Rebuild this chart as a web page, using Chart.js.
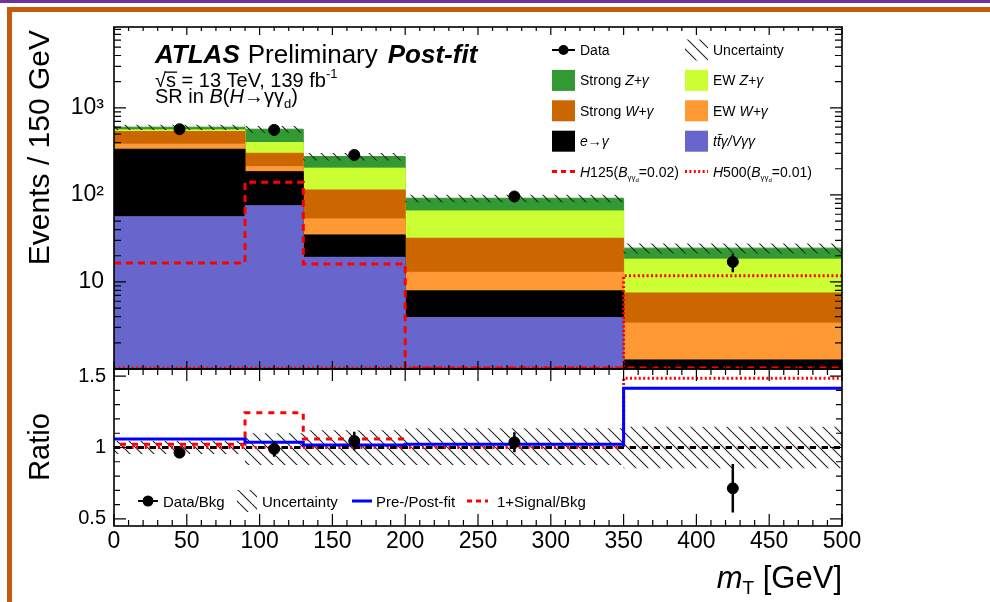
<!DOCTYPE html>
<html>
<head>
<meta charset="utf-8">
<script src="https://cdn.jsdelivr.net/npm/chart.js"></script>
<style>
html, body { margin: 0; padding: 0; background: #fff; }
body { width: 990px; height: 602px; position: relative; overflow: hidden; }
.slide-top { position: absolute; left: 0; top: 0; width: 990px; height: 3px; background: #7030a0; }
.slide-band { position: absolute; left: 7px; top: 7px; width: 983px; height: 5px; background: #c55a11; }
.slide-left { position: absolute; left: 7px; top: 7px; width: 5px; height: 595px; background: #c55a11; }
canvas { position: absolute; left: 0; }
#mainChart { top: 0; }
#ratioChart { top: 360px; }
</style>
</head>
<body>
<div class="slide-top"></div>
<div class="slide-band"></div>
<div class="slide-left"></div>
<canvas id="mainChart" width="990" height="370"></canvas>
<canvas id="ratioChart" width="990" height="242"></canvas>
<script>
// values
const binEdges = [0, 90, 130, 200, 350, 500];
const binCenters = [45, 110, 165, 275, 425];

// background stack, bottom to top (events per bin)
const ttgVgg = [56, 75, 19.2, 3.9, 0.9];
const eFakeGamma = [279, 110, 15.5, 4.0, 0.37];
const ewWgamma = [48, 26, 18.3, 5.0, 2.1];
const strongWgamma = [151, 90, 61, 18.9, 4.1];
const ewZgamma = [25, 98, 89, 33.7, 10.8];
const strongZgamma = [41, 170, 73, 26.1, 6.2];
const bkgRelUnc = [0.07, 0.09, 0.1, 0.1, 0.13];

const dataEvents = [569, 559, 288, 96, 17];
const dataErr = [24, 24, 17, 9.8, 4.1];
const h125Signal = [16.5, 140, 16.1, 1.03, 1.03];
const h500Signal = [1.03, 1.03, 1.03, 1.03, 11.8];

// ratio panel
const ratioData = [0.964, 0.99, 1.046, 1.036, 0.714];
const ratioDataErr = [0.02, 0.055, 0.065, 0.07, 0.17];
const ratioUncUp = [1.045, 1.10, 1.12, 1.135, 1.146];
const ratioUncDown = [0.955, 0.877, 0.877, 0.877, 0.854];
const prePostFit = [1.06, 1.036, 1.018, 1.022, 1.415];
const h125Ratio = [1.022, 1.244, 1.06, 1.0, 1.0];
const h500Ratio = [1.0, 1.0, 1.0, 1.0, 1.485];
const unityLine = [1, 1, 1, 1, 1];

// tick labels
const mainYTickLabels = {10: '10', 100: '10²', 1000: '10³'};
const ratioYTickLabels = [0.5, 1, 1.5];

// styles
const stackColors = ['#6666cc', '#000000', '#ff9933', '#cc6600', '#ccff33', '#339933'];
const F = '"Liberation Sans", Arial, Helvetica, sans-serif';
Chart.defaults.font.family = F;
Chart.defaults.color = '#000';

function stepPoints(vals) {
    return binEdges.map((x, i) => ({x: x, y: vals[Math.min(i, vals.length - 1)]}));
}

function makeHatch(size, color) {
    const c = document.createElement('canvas');
    c.width = size; c.height = size;
    const g = c.getContext('2d');
    g.strokeStyle = color;
    g.lineWidth = 1.1;
    g.beginPath();
    g.moveTo(0, 0); g.lineTo(size, size);
    g.moveTo(-size, 0); g.lineTo(0, size);
    g.moveTo(size, 0); g.lineTo(2 * size, size);
    g.stroke();
    return g.createPattern(c, 'repeat');
}
const hatch = makeHatch(12, '#222');

// draw a row of text pieces: [text, font, dy]
function rich(ctx, x, y, parts) {
    let cx = x;
    parts.forEach(p => {
        ctx.font = p[1];
        ctx.fillText(p[0], cx, y + (p[2] || 0));
        cx += ctx.measureText(p[0]).width;
    });
    return cx;
}
function richWidth(ctx, parts) {
    let w = 0;
    parts.forEach(p => { ctx.font = p[1]; w += ctx.measureText(p[0]).width; });
    return w;
}
function hline(ctx, x1, x2, y) {
    ctx.beginPath(); ctx.moveTo(x1, y); ctx.lineTo(x2, y); ctx.stroke();
}
function dot(ctx, x, y, r) {
    ctx.beginPath(); ctx.arc(x, y, r, 0, Math.PI * 2); ctx.fill();
}

// keep the plot area where the layout padding puts it
function fixY(s) { s.width = 114; s.paddingTop = 0; s.paddingBottom = 0; }
function fixX(h) { return s => { s.height = h; s.paddingLeft = 0; s.paddingRight = 0; }; }

// ROOT style frame with ticks pointing inwards
const frameTicks = {
    id: 'frameTicks',
    afterDatasetsDraw(chart, args, opts) {
        const {ctx, chartArea: a} = chart;
        const x = chart.scales.x, y = chart.scales.y;
        ctx.save();
        ctx.strokeStyle = '#000';
        ctx.lineWidth = 1.2;
        ctx.beginPath();
        const nx = Math.round((x.max - x.min) / opts.xStep);
        for (let i = 0; i <= nx; i++) {
            const v = x.min + i * opts.xStep;
            const px = x.getPixelForValue(v);
            const len = (v % opts.xMajor === 0) ? opts.xLen[0] : opts.xLen[1];
            ctx.moveTo(px, a.bottom); ctx.lineTo(px, a.bottom - len);
            ctx.moveTo(px, a.top); ctx.lineTo(px, a.top + len);
        }
        const yTicks = [];
        if (opts.logY) {
            for (let e = Math.floor(Math.log10(y.min)); e <= Math.ceil(Math.log10(y.max)); e++) {
                for (let k = 1; k < 10; k++) {
                    const v = k * Math.pow(10, e);
                    if (v >= y.min && v <= y.max) yTicks.push([v, k === 1]);
                }
            }
        } else {
            const i0 = Math.ceil(y.min / opts.yStep - 1e-9), i1 = Math.floor(y.max / opts.yStep + 1e-9);
            for (let i = i0; i <= i1; i++) {
                const v = i * opts.yStep;
                const r = v / opts.yMajor;
                yTicks.push([v, Math.abs(r - Math.round(r)) < 1e-6]);
            }
        }
        yTicks.forEach(t => {
            const py = y.getPixelForValue(t[0]);
            const len = t[1] ? opts.yLen[0] : opts.yLen[1];
            ctx.moveTo(a.left, py); ctx.lineTo(a.left + len, py);
            ctx.moveTo(a.right, py); ctx.lineTo(a.right - len, py);
        });
        ctx.stroke();
        ctx.lineWidth = 1.6;
        ctx.strokeRect(a.left, a.top, a.right - a.left, a.bottom - a.top);
        ctx.restore();
    }
};

const errorBars = {
    id: 'errorBars',
    afterDatasetsDraw(chart) {
        const {ctx, chartArea: a} = chart;
        const yScale = chart.scales.y;
        chart.data.datasets.forEach((ds, i) => {
            if (!ds.errorBars) return;
            const meta = chart.getDatasetMeta(i);
            ctx.save();
            ctx.beginPath(); ctx.rect(a.left, a.top, a.right - a.left, a.bottom - a.top); ctx.clip();
            ctx.strokeStyle = '#000';
            ctx.lineWidth = 2.5;
            ctx.beginPath();
            meta.data.forEach((pt, j) => {
                const v = ds.data[j].y, e = ds.errorBars[j];
                ctx.moveTo(pt.x, yScale.getPixelForValue(v + e));
                ctx.lineTo(pt.x, yScale.getPixelForValue(v - e));
            });
            ctx.stroke();
            ctx.restore();
        });
    }
};

// stacked background as stepped lines filled to the one below
let running = binCenters.map(() => 0);
const stackSets = [ttgVgg, eFakeGamma, ewWgamma, strongWgamma, ewZgamma, strongZgamma].map((part, k) => {
    running = running.map((v, i) => v + part[i]);
    return {
        data: stepPoints(running),
        stepped: true,
        fill: k === 0 ? 'start' : '-1',
        backgroundColor: stackColors[k],
        borderColor: stackColors[k],
        borderWidth: 1,
        pointRadius: 0,
        order: 3
    };
});
const bkgTotal = running;

const mainChart = new Chart(document.getElementById('mainChart'), {
    type: 'line',
    data: {
        datasets: [
            ...stackSets,
            {data: stepPoints(bkgTotal.map((v, i) => v * (1 - bkgRelUnc[i]))), stepped: true, fill: false,
             borderColor: 'rgba(0,0,0,0)', borderWidth: 0, pointRadius: 0, order: 2},
            {data: stepPoints(bkgTotal.map((v, i) => v * (1 + bkgRelUnc[i]))), stepped: true, fill: '-1',
             backgroundColor: hatch, borderColor: 'rgba(0,0,0,0)', borderWidth: 0, pointRadius: 0, order: 2},
            {data: stepPoints(h125Signal), stepped: true, fill: false, borderColor: '#ff0000',
             borderWidth: 3, borderDash: [7, 5], pointRadius: 0, order: 1},
            {data: stepPoints(h500Signal), stepped: true, fill: false, borderColor: '#ff0000',
             borderWidth: 3, borderDash: [2, 2.4], pointRadius: 0, order: 1},
            {data: binCenters.map((x, i) => ({x: x, y: dataEvents[i]})), showLine: false, errorBars: dataErr,
             pointRadius: 5.5, pointBackgroundColor: '#000', pointBorderColor: '#000', order: 0}
        ]
    },
    options: {
        responsive: false,
        devicePixelRatio: 1,
        animation: false,
        events: [],
        layout: {autoPadding: false, padding: {top: 27, right: 148, bottom: 1, left: 0}},
        plugins: {
            legend: {display: false},
            tooltip: {enabled: false},
            frameTicks: {xStep: 10, xMajor: 50, xLen: [8, 4], logY: true, yLen: [12, 7]}
        },
        scales: {
            x: {
                type: 'linear', min: 0, max: 500,
                grid: {display: false, drawTicks: false}, border: {display: false},
                ticks: {display: false},
                afterFit: fixX(0)
            },
            y: {
                type: 'logarithmic', min: 1, max: 8500,
                grid: {display: false, drawTicks: false}, border: {display: false},
                ticks: {autoSkip: false, padding: 10, color: '#000', font: {size: 23},
                        callback: v => mainYTickLabels[v] || ''},
                afterFit: fixY
            }
        }
    },
    plugins: [frameTicks, errorBars, {
        id: 'mainText',
        afterDraw(chart) {
            const ctx = chart.ctx;
            ctx.save();
            ctx.fillStyle = '#000';
            ctx.textAlign = 'left';
            ctx.textBaseline = 'alphabetic';

            let x = rich(ctx, 155, 63, [['ATLAS', 'italic bold 26px ' + F]]);
            x = rich(ctx, x + 8, 63, [['Preliminary', '26px ' + F]]);
            rich(ctx, x + 10, 63, [['Post-fit', 'italic bold 26px ' + F]]);

            x = rich(ctx, 155, 87, [['√', '20px ' + F]]);
            const sx = x;
            x = rich(ctx, x, 87, [['s', '20px ' + F]]);
            ctx.fillRect(sx - 1, 71.5, x - sx + 2, 1.3);
            rich(ctx, x, 87, [[' = 13 TeV, 139 fb', '20px ' + F], ['-1', '13px ' + F, -9]]);
            rich(ctx, 155, 103, [['SR in ', '20px ' + F], ['B', 'italic 20px ' + F], ['(', '20px ' + F],
                ['H', 'italic 20px ' + F], ['→γγ', '20px ' + F], ['d', '13px ' + F, 5], [')', '20px ' + F]]);

            // legend
            const col1 = 552, col2 = 685, boxW = 23, boxH = 21, tx1 = 580, tx2 = 713;
            const rowY = r => 50 + r * 30.4;
            const f14 = '14px ' + F, i14 = 'italic 14px ' + F;
            ctx.strokeStyle = '#000';
            ctx.lineWidth = 2;
            hline(ctx, col1, col1 + boxW, rowY(0));
            dot(ctx, col1 + boxW / 2, rowY(0), 5);
            ctx.fillStyle = hatch;
            ctx.fillRect(col2, rowY(0) - boxH / 2, boxW, boxH);
            [[1, col1, 5], [1, col2, 4], [2, col1, 3], [2, col2, 2], [3, col1, 1], [3, col2, 0]].forEach(b => {
                ctx.fillStyle = stackColors[b[2]];
                ctx.fillRect(b[1], rowY(b[0]) - boxH / 2, boxW, boxH);
            });
            ctx.strokeStyle = '#ff0000';
            ctx.lineWidth = 3;
            ctx.setLineDash([5, 4]);
            hline(ctx, col1, col1 + boxW, rowY(4));
            ctx.setLineDash([2, 2.4]);
            hline(ctx, col2, col2 + boxW, rowY(4));
            ctx.setLineDash([]);

            ctx.fillStyle = '#000';
            const b = r => rowY(r) + 5;
            rich(ctx, tx1, b(0), [['Data', f14]]);
            rich(ctx, tx2, b(0), [['Uncertainty', f14]]);
            rich(ctx, tx1, b(1), [['Strong ', f14], ['Z+γ', i14]]);
            rich(ctx, tx2, b(1), [['EW ', f14], ['Z+γ', i14]]);
            rich(ctx, tx1, b(2), [['Strong ', f14], ['W+γ', i14]]);
            rich(ctx, tx2, b(2), [['EW ', f14], ['W+γ', i14]]);
            rich(ctx, tx1, b(3), [['e', i14], ['→', '14px ' + F], ['γ', i14]]);
            rich(ctx, tx2, b(3), [['tt̄γ/Vγγ', i14]]);
            const sub = [['γγ', '8px ' + F, 3], ['d', '6px ' + F, 5]];
            rich(ctx, tx1, b(4), [['H', i14], ['125(', f14], ['B', i14], ...sub, ['=0.02)', f14]]);
            rich(ctx, tx2, b(4), [['H', i14], ['500(', f14], ['B', i14], ...sub, ['=0.01)', f14]]);

            // y title
            ctx.font = '30px ' + F;
            ctx.translate(49, 30);
            ctx.rotate(-Math.PI / 2);
            ctx.textAlign = 'right';
            ctx.fillText('Events / 150 GeV', 0, 0);
            ctx.restore();
        }
    }]
});

const ratioChart = new Chart(document.getElementById('ratioChart'), {
    type: 'line',
    data: {
        datasets: [
            {data: stepPoints(ratioUncDown), stepped: true, fill: false,
             borderColor: 'rgba(0,0,0,0)', borderWidth: 0, pointRadius: 0, order: 3},
            {data: stepPoints(ratioUncUp), stepped: true, fill: '-1', backgroundColor: hatch,
             borderColor: 'rgba(0,0,0,0)', borderWidth: 0, pointRadius: 0, order: 3},
            {data: stepPoints(h500Ratio), stepped: true, fill: false, borderColor: '#ff0000',
             borderWidth: 3, borderDash: [2, 2.4], pointRadius: 0, order: 2},
            {data: stepPoints(h125Ratio), stepped: true, fill: false, borderColor: '#ff0000',
             borderWidth: 3, borderDash: [6, 6], borderDashOffset: 6, pointRadius: 0, order: 2},
            {data: stepPoints(unityLine), fill: false, borderColor: '#000',
             borderWidth: 3, borderDash: [6, 6], pointRadius: 0, order: 1},
            {data: stepPoints(prePostFit), stepped: true, fill: false, borderColor: '#0000ff',
             borderWidth: 3, pointRadius: 0, order: 1},
            {data: binCenters.map((x, i) => ({x: x, y: ratioData[i]})), showLine: false, errorBars: ratioDataErr,
             pointRadius: 5.5, pointBackgroundColor: '#000', pointBorderColor: '#000', order: 0}
        ]
    },
    options: {
        responsive: false,
        devicePixelRatio: 1,
        animation: false,
        events: [],
        layout: {autoPadding: false, padding: {top: 9, right: 148, bottom: 0, left: 0}},
        plugins: {
            legend: {display: false},
            tooltip: {enabled: false},
            frameTicks: {xStep: 10, xMajor: 50, xLen: [12, 6], logY: false, yStep: 0.1, yMajor: 0.5, yLen: [12, 6]}
        },
        scales: {
            x: {
                type: 'linear', min: 0, max: 500,
                grid: {display: false, drawTicks: false}, border: {display: false},
                ticks: {stepSize: 50, autoSkip: false, maxRotation: 0, padding: 2, color: '#000', font: {size: 23}},
                afterFit: fixX(76)
            },
            y: {
                type: 'linear', min: 0.45, max: 1.55,
                grid: {display: false, drawTicks: false}, border: {display: false},
                ticks: {stepSize: 0.5, includeBounds: false, autoSkip: false, padding: 8, color: '#000', font: {size: 20},
                        callback: v => ratioYTickLabels.some(t => Math.abs(t - v) < 1e-6) ? String(v) : ''},
                afterFit: fixY
            }
        }
    },
    plugins: [frameTicks, errorBars, {
        id: 'ratioText',
        afterDraw(chart) {
            const ctx = chart.ctx;
            const top = 360; // canvas offset on the page
            ctx.save();
            ctx.textAlign = 'left';
            ctx.textBaseline = 'alphabetic';
            const f15 = '15px ' + F;
            const ly = 501 - top, lb = 506.5 - top;

            ctx.strokeStyle = '#000';
            ctx.fillStyle = '#000';
            ctx.lineWidth = 2;
            hline(ctx, 138, 158, ly);
            dot(ctx, 148, ly, 5.5);
            rich(ctx, 163, lb, [['Data/Bkg', f15]]);

            ctx.fillStyle = hatch;
            ctx.fillRect(237, ly - 11, 20, 22);
            ctx.fillStyle = '#000';
            rich(ctx, 262, lb, [['Uncertainty', f15]]);

            ctx.strokeStyle = '#0000ff';
            ctx.lineWidth = 3;
            hline(ctx, 352, 372, ly);
            rich(ctx, 376, lb, [['Pre-/Post-fit', f15]]);

            ctx.strokeStyle = '#ff0000';
            ctx.setLineDash([5, 4]);
            hline(ctx, 467, 488, ly);
            ctx.setLineDash([]);
            rich(ctx, 497, lb, [['1+Signal/Bkg', f15]]);

            // x title
            const xt = [['m', 'italic 31px ' + F], ['T', '19px ' + F, 6], [' [GeV]', '31px ' + F]];
            rich(ctx, 842 - richWidth(ctx, xt), 588 - top, xt);

            // y title
            ctx.font = '29px ' + F;
            ctx.translate(49, 447 - top);
            ctx.rotate(-Math.PI / 2);
            ctx.textAlign = 'center';
            ctx.fillText('Ratio', 0, 0);
            ctx.restore();
        }
    }]
});
</script>
</body>
</html>
